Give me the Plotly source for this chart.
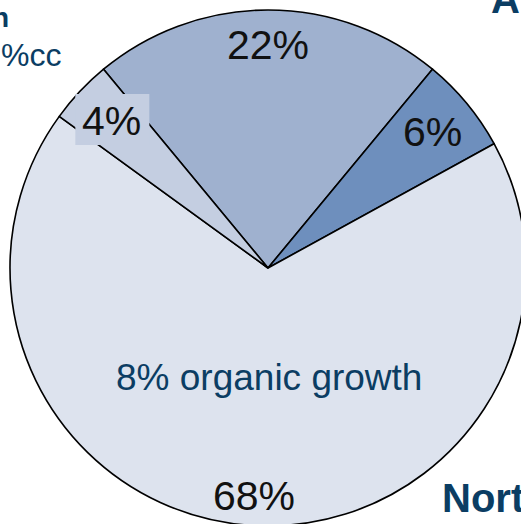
import math
import plotly.graph_objects as go

# Figure canvas (the circle runs slightly past the visible page on the right/bottom)
W, H = 536, 536

# Segment shares, in clockwise order starting from the top segment
labels = ["22%", "6%", "68%", "4%"]
shares = [22, 6, 68, 4]
colors = ["#9fb1cf", "#6e8fbd", "#dde3ee", "#c4cee1"]
label_radius = [0.864, 0.827, 0.885, 0.833]
organic_note = "8% organic growth"
side_texts = ["n", "%cc", "A", "Nort"]

DARK_BLUE = "#0b3d63"
FONT = "Arial, Liberation Sans, sans-serif"

R_PX = 258
CX, CY = 268, 268
dom = [(CX - R_PX) / W, (CX + R_PX) / W]
start_deg = -shares[0] / 2 * 360 / sum(shares)

fig = go.Figure(
    go.Pie(
        values=shares,
        labels=labels,
        sort=False,
        direction="clockwise",
        rotation=start_deg,
        marker=dict(colors=colors, line=dict(color="black", width=1.6)),
        textinfo="none",
        hoverinfo="label",
        domain=dict(x=dom, y=dom),
        showlegend=False,
    )
)


def px_to_paper(x, y):
    return x / W, 1 - y / H


annotations = []
shapes = []
cum = 0.0
total = sum(shares)
for lab, val, frac in zip(labels, shares, label_radius):
    mid = start_deg + (cum + val / 2) / total * 360
    cum += val
    a = math.radians(mid)
    lx = CX + frac * R_PX * math.sin(a)
    ly = CY - frac * R_PX * math.cos(a)
    px, py = px_to_paper(lx, ly)
    annotations.append(dict(
        x=px, y=py, xref="paper", yref="paper", text=lab, showarrow=False,
        xanchor="center", yanchor="middle",
        font=dict(family=FONT, size=41, color="#111111"),
    ))
    if lab == "4%":
        x0, y0 = px_to_paper(lx - 36, ly - 27)
        x1, y1 = px_to_paper(lx + 38, ly + 24)
        shapes.append(dict(type="rect", xref="paper", yref="paper",
                           x0=x0, x1=x1, y0=y0, y1=y1,
                           fillcolor=colors[3], line=dict(width=0), layer="above"))

ox, oy = px_to_paper(268.5, 377.5)
annotations.append(dict(x=ox, y=oy, xref="paper", yref="paper", text=organic_note,
                        showarrow=False, xanchor="center", yanchor="middle",
                        font=dict(family=FONT, size=37, color=DARK_BLUE)))

# Surrounding captions
for txt, (x, y), anchor, size, bold in [
    (side_texts[0], (11, 17.5), "right", 28, True),
    (side_texts[1], (63, 55.5), "right", 32, False),
    (side_texts[2], (489, -1), "left", 40, True),
    (side_texts[3], (440, 498), "left", 40, True),
]:
    px, py = px_to_paper(x, y)
    annotations.append(dict(
        x=px, y=py, xref="paper", yref="paper",
        text=f"<b>{txt}</b>" if bold else txt, showarrow=False,
        xanchor=anchor, yanchor="middle",
        font=dict(family=FONT, size=size, color=DARK_BLUE),
    ))

fig.update_layout(
    width=W, height=H,
    margin=dict(l=0, r=0, t=0, b=0),
    paper_bgcolor="white",
    plot_bgcolor="white",
    annotations=annotations,
    shapes=shapes,
)

fig.write_html(
    "out.html",
    config={"displayModeBar": False},
    post_script="document.body.style.margin='0';document.body.style.overflow='hidden';"
                "document.documentElement.style.overflow='hidden';",
)
